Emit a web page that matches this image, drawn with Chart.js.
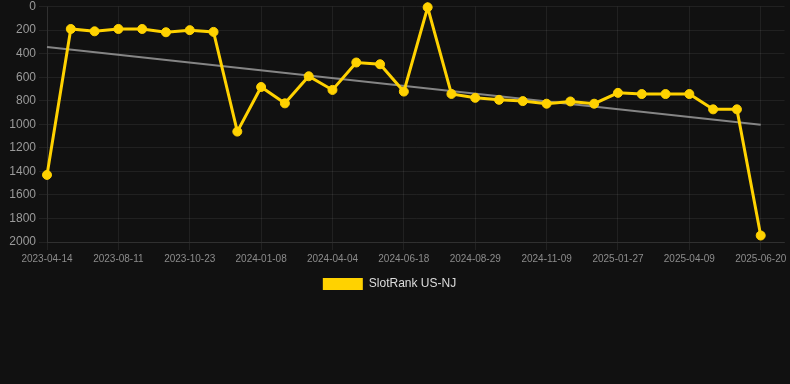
<!DOCTYPE html>
<html>
<head>
<meta charset="utf-8">
<script src="https://cdn.jsdelivr.net/npm/chart.js@4/dist/chart.umd.min.js"></script>
<style>
  html, body { margin: 0; padding: 0; background: #111111; }
  #wrap { position: relative; width: 790px; height: 300px; }
</style>
</head>
<body>
<div id="wrap"><canvas id="c"></canvas></div>
<script>
const categories = [
  '2023-04-14','2023-06-02','2023-07-10','2023-08-11','2023-09-05','2023-09-29',
  '2023-10-23','2023-11-18','2023-12-14','2024-01-08','2024-02-05','2024-03-06',
  '2024-04-04','2024-04-29','2024-05-24','2024-06-18','2024-07-12','2024-08-05',
  '2024-08-29','2024-09-22','2024-10-16','2024-11-09','2024-12-04','2025-01-01',
  '2025-01-27','2025-02-20','2025-03-16','2025-04-09','2025-05-03','2025-05-27',
  '2025-06-20',''
];
const rankValues = [
  1430, 190, 210, 190, 190, 218, 200, 215, 1062, 683, 822, 592,
  708, 475, 490, 722, 6, 742, 775, 792, 803, 825, 806, 825,
  733, 743, 743, 743, 873, 873, 1945, null
];
const trendValues = [
  343, null, null, null, null, null, null, null, null, null, null, null,
  null, null, null, null, null, null, null, null, null, null, null, null,
  null, null, null, null, null, null, 1004, null
];
const yTicksMin = 0, yTicksMax = 2000, yStep = 200;
const seriesName = 'SlotRank US-NJ';

const gold = '#FFD200';
const font = 'Liberation Sans, Arial, sans-serif';

const legendShift = {
  id: 'legendShift',
  afterLayout(chart) {
    if (chart.legend) { chart.legend.left -= 7; }
  }
};

new Chart(document.getElementById('c'), {
  type: 'line',
  data: {
    labels: categories,
    datasets: [
      {
        label: seriesName,
        data: rankValues,
        borderColor: gold,
        backgroundColor: gold,
        borderWidth: 3,
        pointRadius: 4.5,
        pointHoverRadius: 4.5,
        pointBorderWidth: 1,
        pointBackgroundColor: gold,
        pointBorderColor: gold,
        tension: 0,
        clip: 10,
        order: 1
      },
      {
        label: 'trend',
        data: trendValues,
        borderColor: '#858585',
        borderWidth: 2,
        pointRadius: 0,
        spanGaps: true,
        fill: false,
        order: 2
      }
    ]
  },
  plugins: [legendShift],
  options: {
    responsive: true,
    maintainAspectRatio: false,
    animation: false,
    layout: { padding: { left: 0, right: 4, top: 0, bottom: 0 } },
    plugins: {
      tooltip: { enabled: false },
      legend: {
        position: 'bottom',
        labels: {
          color: '#dddddd',
          boxWidth: 40,
          boxHeight: 12,
          padding: 10,
          font: { family: font, size: 12 },
          filter: (item) => item.text === seriesName,
          generateLabels: (chart) => {
            const items = Chart.defaults.plugins.legend.labels.generateLabels(chart);
            items.forEach(it => { it.lineWidth = 0; });
            return items;
          }
        }
      }
    },
    scales: {
      x: {
        grid: { color: 'rgba(255,255,255,0.07)', drawTicks: true },
        border: { color: 'rgba(255,255,255,0.07)' },
        ticks: {
          autoSkip: false,
          maxRotation: 0,
          padding: 3,
          color: '#8c8c8c',
          font: { family: font, size: 10, lineHeight: 1.2 },
          callback: function(value, index) {
            return index % 3 === 0 ? categories[index] : null;
          }
        }
      },
      y: {
        reverse: true,
        min: yTicksMin,
        max: yTicksMax,
        afterFit: (scale) => { scale.width = 47; },
        grid: { color: 'rgba(255,255,255,0.07)' },
        border: { color: 'rgba(255,255,255,0.07)' },
        ticks: {
          stepSize: yStep,
          color: '#9a9a9a',
          font: { family: font, size: 12, lineHeight: 0.6 },
          callback: (v) => String(v)
        }
      }
    }
  }
});
</script>
</body>
</html>
